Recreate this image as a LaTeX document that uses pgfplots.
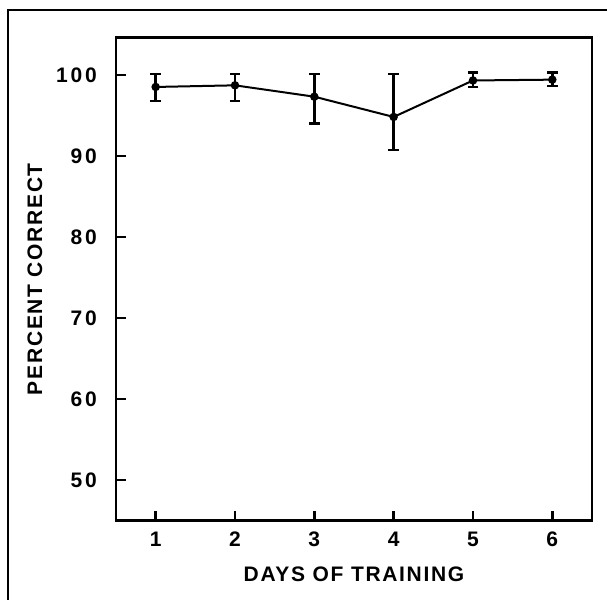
\documentclass[border=0pt]{standalone}
\usepackage{pgfplots}
\pgfplotsset{compat=1.18}
\usepackage{fontspec}
\setmainfont{Liberation Sans}
\newfontfamily\lblfont[LetterSpace=8]{Liberation Sans}
\newfontfamily\numfont[LetterSpace=14]{Liberation Sans}
\begin{document}
\begin{tikzpicture}
\useasboundingbox (-58pt,-39.65pt) rectangle (245.5pt,260.35pt);
\draw[line width=1pt] (-53.75pt,-45pt) -- (-53.75pt,255.5pt) -- (250pt,255.5pt);
\begin{axis}[
  at={(0pt,0pt)}, anchor=south west,
  scale only axis, width=238pt, height=241.6pt,
  xmin=0.5, xmax=6.5, ymin=45, ymax=104.6,
  xtick={1,2,3,4,5,6}, ytick={50,60,70,80,90,100},
  tick pos=left, tick align=inside,
  major tick length=5pt,
  axis line style={line width=1.2pt},
  every tick/.style={line width=1.2pt, black},
  /pgf/number format/assume math mode=true,
  tick label style={font=\numfont\bfseries\fontsize{10.5}{12}\selectfont},
  yticklabel style={xshift=-6pt},
  xticklabel style={yshift=-2pt},
  xlabel={\lblfont\bfseries DAYS OF TRAINING},
  ylabel={\lblfont\bfseries PERCENT CORRECT},
  label style={font=\fontsize{10.5}{12}\selectfont},
  xlabel style={yshift=-3pt},
  ylabel style={yshift=0pt},
]
\addplot[black, line width=1pt, mark=*, mark size=1.6pt,
  error bars/.cd, y dir=both, y explicit,
  error bar style={line width=1.2pt}, error mark options={rotate=90, mark size=2.6pt, line width=1.2pt}]
coordinates {
  (1,98.5) += (0,1.6) -= (0,1.7)
  (2,98.7) += (0,1.4) -= (0,1.9)
  (3,97.3) += (0,2.8) -= (0,3.3)
  (4,94.8) += (0,5.3) -= (0,4.1)
  (5,99.3) += (0,1.0) -= (0,0.8)
  (6,99.4) += (0,0.9) -= (0,0.8)
};
\end{axis}
\end{tikzpicture}
\end{document}
